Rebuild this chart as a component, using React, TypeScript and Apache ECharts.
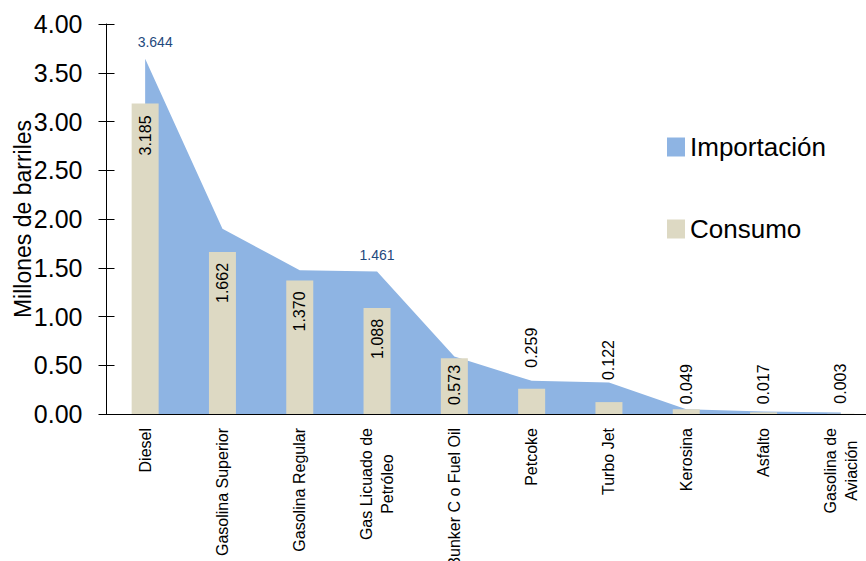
import React, { useEffect, useRef } from "react";
import * as echarts from "echarts";

const categories = [
  "Diesel",
  "Gasolina Superior",
  "Gasolina Regular",
  "Gas Licuado de\nPetróleo",
  "Bunker C o Fuel Oil",
  "Petcoke",
  "Turbo Jet",
  "Kerosina",
  "Asfalto",
  "Gasolina de\nAviación",
];
const importacion = [3.644, 1.9, 1.475, 1.461, 0.59, 0.34, 0.322, 0.05, 0.025, 0.015];
const consumo = [3.185, 1.662, 1.37, 1.088, 0.573, 0.259, 0.122, 0.049, 0.017, 0.003];
const importacionLabeled = [0, 3];
const yTicks = { min: 0, max: 4, interval: 0.5 };

// label placement for the Consumo bars (style only)
const consumoLabelPlacement: { position: string; distance: number }[] = [
  { position: "insideTop", distance: 12 },
  { position: "insideTop", distance: 11 },
  { position: "insideTop", distance: 11 },
  { position: "insideTop", distance: 11 },
  { position: "insideBottom", distance: 9 },
  { position: "top", distance: 21 },
  { position: "top", distance: 22 },
  { position: "top", distance: 5 },
  { position: "top", distance: 8 },
  { position: "top", distance: 10 },
];

const FONT = "'Liberation Sans', Arial, sans-serif";
const BLUE = "#8EB4E3";
const BEIGE = "#DDD9C3";

export default function App() {
  const ref = useRef<HTMLDivElement>(null);
  useEffect(() => {
    if (!ref.current) return;
    const chart = echarts.init(ref.current, undefined, { renderer: "svg" });
    const option: any = {
      animation: false,
      textStyle: { fontFamily: FONT },
      grid: { left: 106.5, top: 24, width: 773, bottom: 147, outerBoundsMode: "none", containLabel: false },
      legend: {
        orient: "vertical",
        left: 662,
        top: 129,
        itemWidth: 18,
        itemHeight: 19,
        itemGap: 56,
        textStyle: { fontSize: 26, color: "#000", fontFamily: FONT },
        data: [
          { name: "Importación", icon: "rect", itemStyle: { color: BLUE } },
          { name: "Consumo", icon: "rect", itemStyle: { color: BEIGE } },
        ],
      },
      xAxis: [
        {
          type: "category",
          data: categories,
          axisLine: { lineStyle: { color: "#000", width: 1 } },
          axisTick: { length: 6, lineStyle: { color: "#000" } },
          axisLabel: {
            rotate: 90,
            margin: 14,
            interval: 0,
            color: "#000",
            fontSize: 16,
            fontFamily: FONT,
            formatter: (v: string) =>
              v
                .split("\n")
                .map((l) => `{c|${l}}`)
                .join("\n"),
            rich: {
              c: { align: "center", fontSize: 16, lineHeight: 21, fontFamily: FONT, color: "#000" },
            },
          },
        },
        {
          type: "category",
          data: categories,
          position: "bottom",
          axisLine: { show: false },
          axisTick: { inside: true, length: 6, lineStyle: { color: "#000" } },
          axisLabel: { show: false },
        },
      ],
      yAxis: [
        {
          type: "value",
          min: yTicks.min,
          max: yTicks.max,
          interval: yTicks.interval,
          name: "Millones de barriles",
          nameLocation: "middle",
          nameGap: 72,
          nameMoveOverlap: false,
          nameTextStyle: { fontSize: 23, color: "#000", fontFamily: FONT },
          axisLine: { show: true, lineStyle: { color: "#000", width: 1 } },
          axisTick: { show: true, length: 8, lineStyle: { color: "#000" } },
          splitLine: { show: false },
          axisLabel: {
            fontSize: 25,
            color: "#000",
            margin: 24,
            formatter: (v: number) => v.toFixed(2),
          },
        },
        {
          type: "value",
          min: yTicks.min,
          max: yTicks.max,
          interval: yTicks.interval,
          position: "left",
          axisLine: { show: false },
          axisTick: { show: true, inside: true, length: 8, lineStyle: { color: "#000" } },
          splitLine: { show: false },
          axisLabel: { show: false },
        },
      ],
      series: [
        {
          name: "Importación",
          type: "line",
          symbol: "none",
          itemStyle: { color: BLUE },
          lineStyle: { width: 0, color: BLUE },
          areaStyle: { color: BLUE, opacity: 1 },
          data: importacion.map((v, i) =>
            importacionLabeled.includes(i)
              ? {
                  value: v,
                  symbol: "circle",
                  symbolSize: 2,
                  itemStyle: { color: "rgba(0,0,0,0)" },
                  label: {
                    show: true,
                    position: "top",
                    distance: 9,
                    offset: i === 0 ? [10, 0] : [0, 0],
                    fontSize: 14,
                    color: "#1F497D",
                    fontFamily: FONT,
                    formatter: (p: any) => Number(p.value).toFixed(3),
                  },
                }
              : v
          ),
          z: 1,
        },
        {
          name: "Consumo",
          type: "bar",
          barWidth: 27,
          itemStyle: { color: BEIGE },
          data: consumo.map((v, i) => {
            const pl = consumoLabelPlacement[i];
            const align = pl.position === "insideTop" ? "right" : "left";
            return {
              value: v,
              label: {
                show: true,
                position: pl.position,
                distance: pl.distance,
                rotate: 90,
                align,
                verticalAlign: "middle",
                fontSize: 16,
                color: "#000",
                fontFamily: FONT,
                formatter: (p: any) => Number(p.value).toFixed(3),
              },
            };
          }),
          z: 3,
        },
      ],
    };
    chart.setOption(option);
    return () => chart.dispose();
  }, []);
  return (
    <div
      ref={ref}
      style={{ position: "fixed", left: 0, top: 0, width: 866, height: 561, background: "#fff" }}
    />
  );
}
